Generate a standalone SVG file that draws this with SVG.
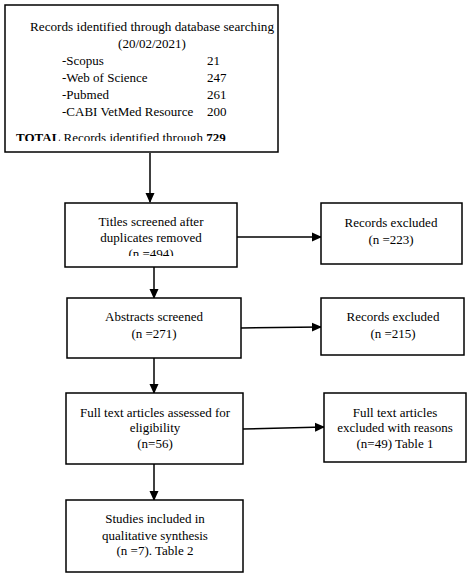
<svg xmlns="http://www.w3.org/2000/svg" width="474" height="579" viewBox="0 0 474 579">
<style>
.box{fill:#fff;stroke:#000;stroke-width:1.5}
.t{font-family:"Liberation Serif","Times New Roman",serif;font-size:13px;fill:#000}
.c{text-anchor:middle}
.b{font-weight:bold}
.ln{stroke:#000;stroke-width:1.5;fill:none}
</style>
<defs>
<marker id="ah" markerWidth="10" markerHeight="10" refX="9" refY="5" orient="auto" markerUnits="userSpaceOnUse">
<path d="M0,0.5 L10,5 L0,9.5 Z" fill="#000"/>
</marker>
<clipPath id="clipTop"><rect x="5" y="5" width="273" height="136"/></clipPath>
<clipPath id="clipTitles"><rect x="65" y="203" width="172" height="53"/></clipPath>
</defs>
<rect width="474" height="579" fill="#fff"/>
<g id="connectors">
<line class="ln" x1="150" y1="153" x2="150" y2="202" marker-end="url(#ah)"/>
<line class="ln" x1="237" y1="237" x2="321" y2="237" marker-end="url(#ah)"/>
<line class="ln" x1="154" y1="267" x2="154" y2="298" marker-end="url(#ah)"/>
<line class="ln" x1="241" y1="328" x2="321" y2="327" marker-end="url(#ah)"/>
<line class="ln" x1="154" y1="358" x2="154" y2="393" marker-end="url(#ah)"/>
<line class="ln" x1="243" y1="429" x2="324" y2="427" marker-end="url(#ah)"/>
<line class="ln" x1="154" y1="464" x2="154" y2="500" marker-end="url(#ah)"/>
</g>
<g id="records-identified">
<rect class="box" x="5" y="5" width="273" height="147"/>
<g clip-path="url(#clipTop)">
<text class="t" x="30" y="31" textLength="244" lengthAdjust="spacingAndGlyphs">Records identified through database searching</text>
<text class="t c" x="152" y="48">(20/02/2021)</text>
<text class="t" x="62" y="65">-Scopus</text><text class="t" x="207" y="65">21</text>
<text class="t" x="62" y="82">-Web of Science</text><text class="t" x="207" y="82">247</text>
<text class="t" x="62" y="99">-Pubmed</text><text class="t" x="207" y="99">261</text>
<text class="t" x="62" y="116">-CABI VetMed Resource</text><text class="t" x="207" y="116">200</text>
<text class="t" x="16" y="142"><tspan class="b">TOTAL</tspan> Records identified through  <tspan class="b">729</tspan></text>
</g>
</g>
<g id="titles-screened">
<rect class="box" x="65" y="203" width="172" height="64"/>
<g clip-path="url(#clipTitles)">
<text class="t c" x="151" y="226">Titles screened after</text>
<text class="t c" x="151" y="242">duplicates removed</text>
<text class="t c" x="151" y="258">(n =494)</text>
</g>
</g>
<g id="records-excluded-1">
<rect class="box" x="321" y="203" width="141" height="61"/>
<text class="t c" x="391" y="227">Records excluded</text>
<text class="t c" x="391" y="244">(n =223)</text>
</g>
<g id="abstracts-screened">
<rect class="box" x="67" y="298" width="174" height="60"/>
<text class="t c" x="154" y="321">Abstracts screened</text>
<text class="t c" x="154" y="338">(n =271)</text>
</g>
<g id="records-excluded-2">
<rect class="box" x="321" y="298" width="143" height="57"/>
<text class="t c" x="393" y="321">Records excluded</text>
<text class="t c" x="393" y="338">(n =215)</text>
</g>
<g id="full-text-assessed">
<rect class="box" x="66" y="393" width="177" height="71"/>
<text class="t c" x="155" y="417">Full text articles assessed for</text>
<text class="t c" x="155" y="432">eligibility</text>
<text class="t c" x="155" y="448">(n=56)</text>
</g>
<g id="full-text-excluded">
<rect class="box" x="324" y="393" width="142" height="69"/>
<text class="t c" x="395" y="417">Full text articles</text>
<text class="t c" x="395" y="432">excluded with reasons</text>
<text class="t c" x="395" y="448">(n=49) Table 1</text>
</g>
<g id="studies-included">
<rect class="box" x="66" y="500" width="177" height="72"/>
<text class="t c" x="155" y="523">Studies included in</text>
<text class="t c" x="155" y="540">qualitative synthesis</text>
<text class="t c" x="155" y="555">(n =7). Table 2</text>
</g>
</svg>
